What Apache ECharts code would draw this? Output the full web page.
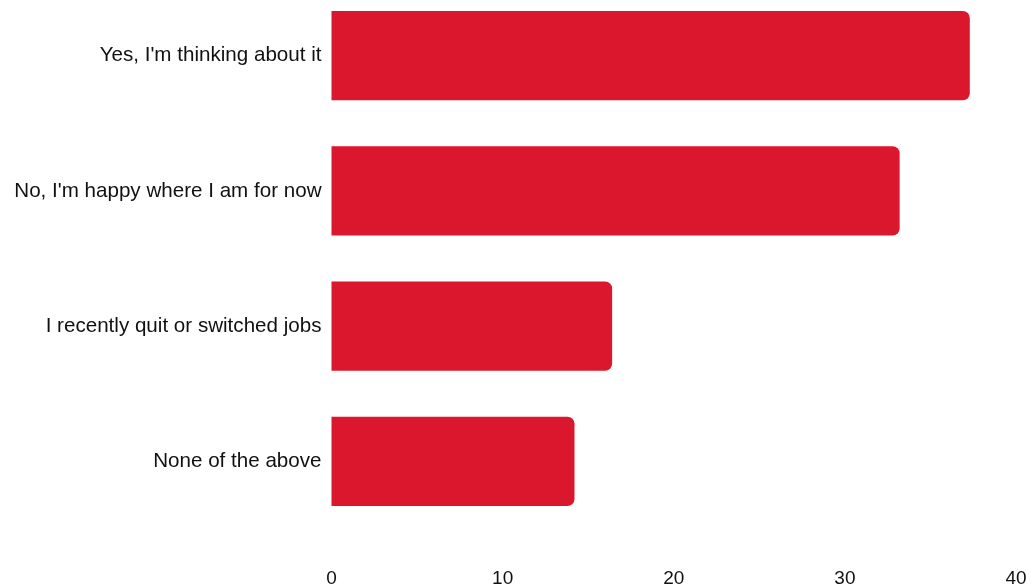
<!DOCTYPE html>
<html>
<head>
<meta charset="utf-8">
<script src="https://cdn.jsdelivr.net/npm/echarts@6/dist/echarts.min.js"></script>
<style>
  html, body { margin: 0; padding: 0; background: #ffffff; overflow: hidden; }
  /* the first band starts slightly above the page edge */
  #chart { width: 1033px; height: 596px; margin-top: -12px; }
</style>
</head>
<body>
<div id="chart"></div>
<script>
// Survey answers, listed top to bottom
const categories = [
  "Yes, I'm thinking about it",
  "No, I'm happy where I am for now",
  "I recently quit or switched jobs",
  "None of the above"
];
const values = [37.3, 33.2, 16.4, 14.2];
const xTicks = [0, 10, 20, 30, 40];

const chart = echarts.init(document.getElementById('chart'), null, { renderer: 'canvas' });

chart.setOption({
  animation: false,
  backgroundColor: '#ffffff',
  grid: {
    left: 331.5, right: 17, top: 0, bottom: 55,
    containLabel: false,
    outerBoundsMode: 'none'
  },
  xAxis: {
    type: 'value',
    min: xTicks[0],
    max: xTicks[xTicks.length - 1],
    interval: 10,
    axisLine: { show: false },
    axisTick: { show: false },
    splitLine: { show: false },
    axisLabel: {
      margin: 40,
      color: '#111111',
      fontFamily: 'Liberation Sans, Arial, sans-serif',
      fontSize: 19
    }
  },
  yAxis: {
    type: 'category',
    inverse: true,
    data: categories,
    axisLine: { show: false },
    axisTick: { show: false },
    splitLine: { show: false },
    axisLabel: {
      margin: 10,
      color: '#111111',
      fontFamily: 'Liberation Sans, Arial, sans-serif',
      fontSize: 20.6,
      padding: [3, 0, 0, 0]
    }
  },
  series: [{
    type: 'bar',
    data: values,
    barCategoryGap: '34%',
    itemStyle: { color: '#DA172C', borderRadius: [0, 7, 7, 0] }
  }]
});
</script>
</body>
</html>
